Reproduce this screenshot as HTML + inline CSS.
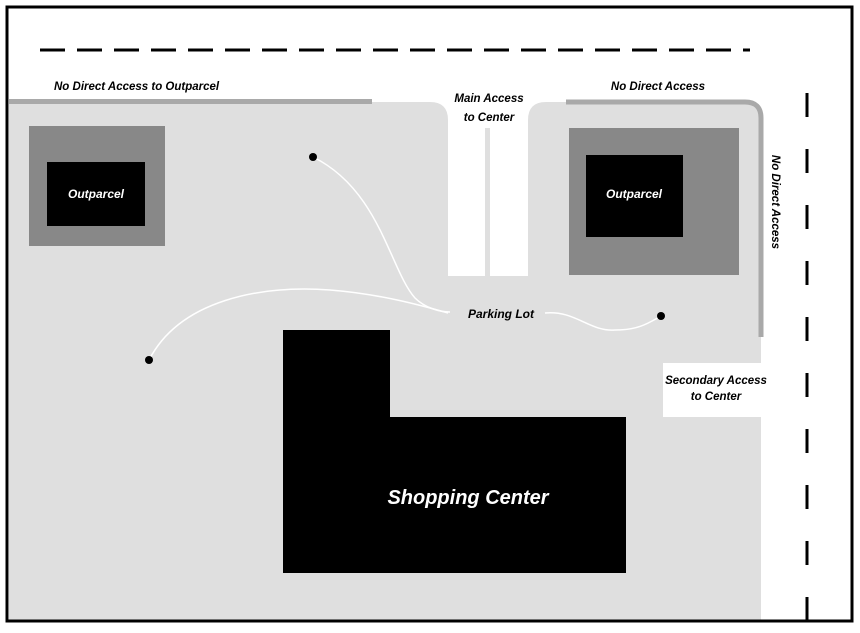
<!DOCTYPE html>
<html><head><style>
body{margin:0;background:#fff;}
svg text{font-family:"Liberation Sans",sans-serif;font-weight:bold;font-style:italic;}
</style></head><body>
<svg width="860" height="628" viewBox="0 0 860 628" xmlns="http://www.w3.org/2000/svg">
<rect x="0" y="0" width="860" height="628" fill="#fff"/>
<!-- gray ground -->
<path d="M9 102 H430 Q448 102 448 120 V276 H528 V120 Q528 102 546 102 H745 Q761 102 761 118 V621 H9 Z" fill="#dfdfdf"/>
<!-- white secondary access box -->
<rect x="663" y="363" width="98" height="54" fill="#fff"/>
<!-- accent bars -->
<rect x="9" y="99" width="363" height="5" fill="#a9a9a9"/>
<path d="M566 102 H745 Q761 102 761 118 V337" fill="none" stroke="#a9a9a9" stroke-width="5"/>
<!-- main access divider -->
<rect x="485" y="128" width="5" height="148" fill="#dfdfdf"/>
<!-- outparcels -->
<rect x="29" y="126" width="136" height="120" fill="#888"/>
<rect x="47" y="162" width="98" height="64" fill="#000"/>
<rect x="569" y="128" width="170" height="147" fill="#888"/>
<rect x="586" y="155" width="97" height="82" fill="#000"/>
<text x="96" y="198" fill="#fff" font-size="12" text-anchor="middle">Outparcel</text>
<text x="634" y="198" fill="#fff" font-size="12" text-anchor="middle">Outparcel</text>
<!-- shopping center -->
<path d="M283 330 H390 V417 H626 V573 H283 Z" fill="#000"/>
<text x="468" y="504" fill="#fff" font-size="20" text-anchor="middle">Shopping Center</text>
<!-- curves -->
<path d="M313 157 C380 190 390 270 415 298 C425 308 440 312 450 312" fill="none" stroke="#fff" stroke-width="1.5"/>
<path d="M149 360 C180 300 260 285 330 290 C380 294 420 305 448 313" fill="none" stroke="#fff" stroke-width="1.5"/>
<path d="M545 313 C575 310 590 332 615 330 C640 330 650 322 661 316" fill="none" stroke="#fff" stroke-width="1.5"/>
<circle cx="313" cy="157" r="4" fill="#000"/>
<circle cx="149" cy="360" r="4" fill="#000"/>
<circle cx="661" cy="316" r="4" fill="#000"/>
<text x="501" y="318" fill="#000" font-size="12" text-anchor="middle">Parking Lot</text>
<!-- labels -->
<text x="54" y="90" fill="#000" font-size="11.5">No Direct Access to Outparcel</text>
<text x="489" y="102" fill="#000" font-size="11.5" text-anchor="middle">Main Access</text>
<text x="489" y="121" fill="#000" font-size="11.5" text-anchor="middle">to Center</text>
<text x="658" y="90" fill="#000" font-size="11.5" text-anchor="middle">No Direct Access</text>
<text x="0" y="0" fill="#000" font-size="11.5" text-anchor="middle" transform="translate(772 202) rotate(90)">No Direct Access</text>
<text x="716" y="384" fill="#000" font-size="11.5" text-anchor="middle">Secondary Access</text>
<text x="716" y="400" fill="#000" font-size="11.5" text-anchor="middle">to Center</text>
<!-- roads -->
<line x1="40" y1="50" x2="750" y2="50" stroke="#000" stroke-width="3" stroke-dasharray="25 12"/>
<line x1="807" y1="93" x2="807" y2="621" stroke="#000" stroke-width="3" stroke-dasharray="24 32"/>
<!-- frame -->
<rect x="7" y="7" width="845" height="614" fill="none" stroke="#000" stroke-width="3"/>
</svg>
</body></html>
